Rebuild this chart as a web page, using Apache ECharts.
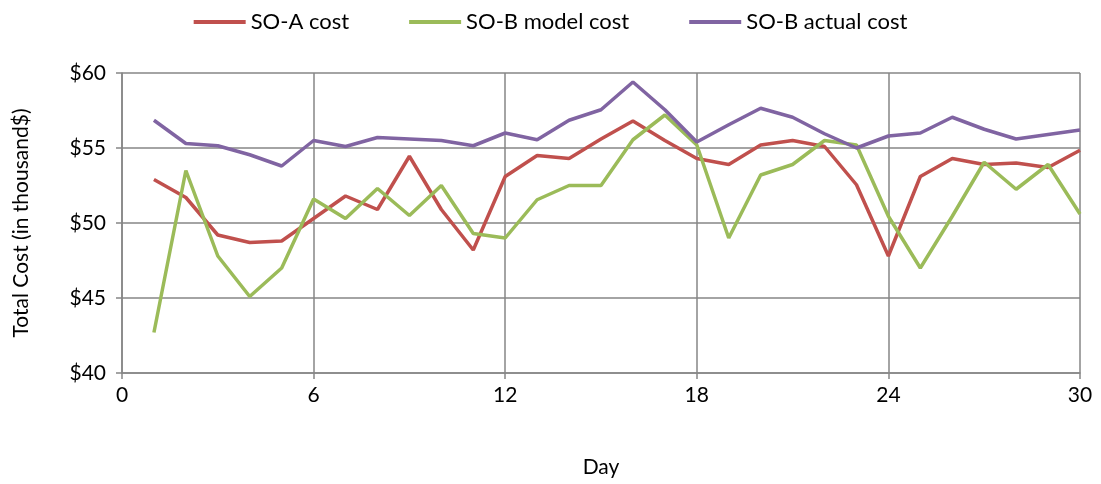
<!DOCTYPE html>
<html>
<head>
<meta charset="utf-8">
<script src="https://cdn.jsdelivr.net/npm/echarts@6/dist/echarts.min.js"></script>
<style>
  html, body { margin: 0; padding: 0; background: #fff; }
  #chart { width: 1101px; height: 484px; }
</style>
</head>
<body>
<div id="chart"></div>
<script>
  // days 1..30
  var days = [1,2,3,4,5,6,7,8,9,10,11,12,13,14,15,16,17,18,19,20,21,22,23,24,25,26,27,28,29,30];
  var soACost = [52.9,51.7,49.2,48.7,48.8,50.3,51.8,50.9,54.45,50.9,48.2,53.1,54.5,54.3,55.6,56.8,55.5,54.3,53.9,55.2,55.5,55.1,52.55,47.8,53.1,54.3,53.9,54.0,53.7,54.85];
  var soBModelCost = [42.7,53.5,47.8,45.1,47.0,51.6,50.3,52.3,50.5,52.5,49.3,49.0,51.55,52.5,52.5,55.55,57.2,55.2,49.0,53.2,53.9,55.5,55.2,50.45,47.0,50.45,54.05,52.25,53.9,50.6];
  var soBActualCost = [56.85,55.3,55.15,54.55,53.8,55.5,55.1,55.7,55.6,55.5,55.15,56.0,55.55,56.85,57.55,59.4,57.55,55.4,56.55,57.65,57.05,55.95,55.0,55.8,56.0,57.05,56.25,55.6,55.9,56.2];
  var xTicks = { min: 0, max: 30, step: 6 };
  var yTicks = { min: 40, max: 60, step: 5 };

  function pairs(vals) {
    return days.map(function (d, i) { return [d, vals[i]]; });
  }

  var font = 'Lato, "Open Sans", sans-serif';
  var myChart = echarts.init(document.getElementById('chart'));
  var option = {
    animation: false,
    textStyle: { fontFamily: font },
    legend: {
      top: 6,
      left: 'center',
      itemGap: 60,
      itemWidth: 52,
      itemHeight: 4,
      icon: 'rect',
      textStyle: { fontSize: 22, color: '#000', fontFamily: font },
      data: ['SO-A cost', 'SO-B model cost', 'SO-B actual cost']
    },
    grid: {
      left: 122,
      right: 21,
      top: 73,
      bottom: 111,
      outerBoundsMode: 'none',
      containLabel: false
    },
    xAxis: {
      type: 'value',
      min: xTicks.min,
      max: xTicks.max,
      interval: xTicks.step,
      name: 'Day',
      nameLocation: 'middle',
      nameGap: 84,
      nameTextStyle: { fontSize: 21, color: '#000', fontFamily: font },
      axisLine: { show: true, lineStyle: { color: '#868686', width: 1.5 } },
      axisTick: { show: true, length: 6, lineStyle: { color: '#868686', width: 1.5 } },
      axisLabel: { fontSize: 21, color: '#000', margin: 12, fontFamily: font },
      splitLine: { show: true, lineStyle: { color: '#868686', width: 1.5 } }
    },
    yAxis: {
      type: 'value',
      min: yTicks.min,
      max: yTicks.max,
      interval: yTicks.step,
      name: 'Total Cost (in thousand$)',
      nameLocation: 'middle',
      nameGap: 90,
      nameRotate: 90,
      nameTextStyle: { fontSize: 21, color: '#000', fontFamily: font },
      axisLine: { show: true, lineStyle: { color: '#868686', width: 1.5 } },
      axisTick: { show: true, length: 6, lineStyle: { color: '#868686', width: 1.5 } },
      axisLabel: {
        fontSize: 21, color: '#000', margin: 16, fontFamily: font,
        formatter: function (v) { return '$' + v; }
      },
      splitLine: { show: true, lineStyle: { color: '#868686', width: 1.5 } }
    },
    series: [{
      name: 'SO-A cost',
      type: 'line',
      data: pairs(soACost),
      symbol: 'none',
      color: '#C0504D',
      lineStyle: { width: 3.5, color: '#C0504D' }
    }, {
      name: 'SO-B model cost',
      type: 'line',
      data: pairs(soBModelCost),
      symbol: 'none',
      color: '#9BBB59',
      lineStyle: { width: 3.5, color: '#9BBB59' }
    }, {
      name: 'SO-B actual cost',
      type: 'line',
      data: pairs(soBActualCost),
      symbol: 'none',
      color: '#8064A2',
      lineStyle: { width: 3.5, color: '#8064A2' }
    }]
  };
  myChart.setOption(option);
</script>
</body>
</html>
